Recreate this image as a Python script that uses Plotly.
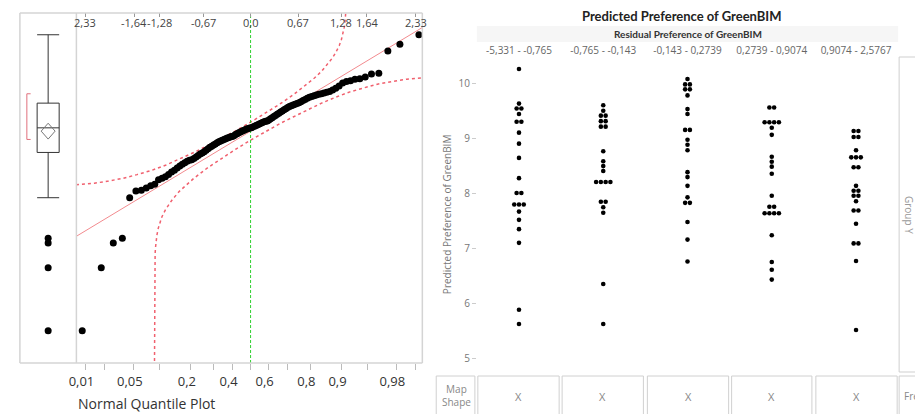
import plotly.graph_objects as go
from statistics import NormalDist, mean, stdev
from collections import Counter, defaultdict

# ---------------- data ----------------
# sorted residuals (Residual Preference of GreenBIM), n = 112
residuals = [
    -5.331, -3.647, -2.987, -2.861, -1.777, -1.598, -1.579, -1.52, -1.46, -1.42,
    -1.30, -1.26, -1.22, -1.16, -1.09, -1.04, -0.98, -0.93, -0.88, -0.84,
    -0.80, -0.775, -0.765, -0.73, -0.69, -0.65, -0.61, -0.585, -0.55, -0.51,
    -0.47, -0.43, -0.40, -0.37, -0.34, -0.31, -0.28, -0.26, -0.24, -0.22,
    -0.20, -0.18, -0.165, -0.150, -0.143, -0.12, -0.09, -0.065, -0.04, -0.02,
    0.00, 0.02, 0.04, 0.06, 0.075, 0.085, 0.095, 0.11, 0.13, 0.15,
    0.17, 0.19, 0.21, 0.23, 0.25, 0.265, 0.2739, 0.30, 0.33, 0.36,
    0.39, 0.42, 0.45, 0.48, 0.51, 0.54, 0.57, 0.60, 0.63, 0.66,
    0.68, 0.70, 0.72, 0.74, 0.76, 0.79, 0.82, 0.85, 0.88, 0.9074,
    0.93, 0.95, 0.97, 0.985, 1.00, 1.02, 1.04, 1.06, 1.10, 1.15,
    1.21, 1.29, 1.33, 1.35, 1.39, 1.40, 1.45, 1.53, 1.55, 2.14,
    2.32, 2.5767,
]

# confidence band: normal quantile -> residual
band_upper_z = [-2.46, -2.2, -2.0, -1.8, -1.6, -1.4, -1.2, -1.0, -0.8, -0.6, -0.4, -0.2, 0.0,
                0.2, 0.4, 0.6, 0.8, 0.9, 1.0, 1.1, 1.15, 1.2, 1.25, 1.28, 1.3, 1.32, 1.33,
                1.34, 1.345, 1.352]
band_upper_r = [-1.43, -1.39, -1.33, -1.26, -1.16, -1.05, -0.91, -0.75, -0.57, -0.38, -0.19,
                0.02, 0.24, 0.47, 0.71, 0.97, 1.26, 1.42, 1.60, 1.82, 1.95, 2.10, 2.29, 2.45,
                2.59, 2.78, 2.91, 3.12, 3.28, 4.2]
band_lower_z = [-1.354, -1.352, -1.345, -1.34, -1.33, -1.32, -1.3, -1.28, -1.25, -1.2, -1.15,
                -1.1, -1.0, -0.9, -0.8, -0.6, -0.4, -0.2, 0.0, 0.2, 0.4, 0.6, 0.8, 1.0, 1.2,
                1.4, 1.6, 1.8, 2.0, 2.2, 2.46]
band_lower_r = [-6.3, -4.2, -3.28, -3.12, -2.91, -2.78, -2.59, -2.45, -2.29, -2.10, -1.95,
                -1.82, -1.60, -1.42, -1.26, -0.97, -0.71, -0.47, -0.24, -0.02, 0.19, 0.38,
                0.57, 0.75, 0.91, 1.05, 1.16, 1.26, 1.33, 1.39, 1.43]

top_z_ticks = [-2.33, -1.64, -1.28, -0.67, 0.0, 0.67, 1.28, 1.64, 2.33]
top_z_text = ["2,33", "-1,64", "-1,28", "-0,67", "0,0", "0,67", "1,28", "1,64", "2,33"]
prob_ticks = [0.01, 0.02, 0.05, 0.1, 0.2, 0.3, 0.4, 0.5, 0.6, 0.7, 0.8, 0.9, 0.95, 0.98, 0.99]
prob_text = ["0,01", "", "0,05", "", "0,2", "", "0,4", "", "0,6", "", "0,8", "0,9", "", "0,98", ""]

bin_labels = ["-5,331 - -0,765", "-0,765 - -0,143", "-0,143 - 0,2739",
              "0,2739 - 0,9074", "0,9074 - 2,5767"]
pred_g1 = [10.27, 9.64, 9.55, 9.55, 9.45, 9.31, 9.31, 9.11, 8.91, 8.65, 8.28, 8.01, 8.01,
           7.80, 7.80, 7.80, 7.67, 7.52, 7.35, 7.10, 5.88, 5.62]
pred_g2 = [9.61, 9.51, 9.42, 9.42, 9.32, 9.32, 9.22, 9.22, 8.77, 8.59, 8.50, 8.41, 8.21,
           8.21, 8.21, 8.21, 7.85, 7.85, 7.75, 7.65, 6.35, 5.62]
pred_g3 = [10.09, 9.99, 9.99, 9.90, 9.90, 9.79, 9.54, 9.45, 9.16, 9.16, 8.98, 8.89, 8.79,
           8.39, 8.30, 8.14, 7.93, 7.83, 7.83, 7.48, 7.16, 6.76]
pred_g4 = [9.57, 9.57, 9.30, 9.30, 9.30, 9.30, 9.20, 9.07, 8.67, 8.58, 8.49, 8.36, 7.96,
           7.76, 7.76, 7.64, 7.64, 7.64, 7.64, 7.24, 6.75, 6.61, 6.43]
pred_g5 = [9.14, 9.14, 9.03, 9.03, 8.79, 8.66, 8.66, 8.66, 8.48, 8.48, 8.14, 8.05, 8.05,
           7.96, 7.96, 7.86, 7.69, 7.69, 7.45, 7.09, 7.09, 6.77, 5.51]
pred_ticks = [5, 6, 7, 8, 9, 10]

# ---------------- helpers ----------------
W, H = 915, 414
def fx(p):
    return p / W
def fy(p):
    return 1 - p / H

nd = NormalDist()
n = len(residuals)
res_sorted = sorted(residuals)
qz = [nd.inv_cdf(i / (n + 1)) for i in range(1, n + 1)]
m = mean(res_sorted)
s = stdev(res_sorted)

R_MIN, R_MAX = -6.193, 3.158
Z_MIN, Z_MAX = -2.454, 2.42
FONT = "Open Sans, Noto Sans, sans-serif"
TITLE_FONT = "Lato, Open Sans, sans-serif"

fig = go.Figure()

# ---- box plot ----
fig.add_trace(go.Box(
    y=res_sorted, x0=0.5, width=0.39, xaxis="x", yaxis="y",
    boxpoints="outliers", quartilemethod="exclusive", whiskerwidth=1,
    fillcolor="white", line=dict(color="#333333", width=1),
    marker=dict(color="black", size=7), showlegend=False, hoverinfo="skip",
))
ci = 1.96 * s / (n ** 0.5)
fig.add_trace(go.Scatter(
    x=[0.5 - 0.123, 0.5, 0.5 + 0.123, 0.5, 0.5 - 0.123],
    y=[m, m + ci, m, m - ci, m],
    mode="lines", line=dict(color="#777777", width=1), xaxis="x", yaxis="y",
    showlegend=False, hoverinfo="skip",
))
h = n // 2
best = min(range(n - h + 1), key=lambda i: res_sorted[i + h - 1] - res_sorted[i])
lo, hi = res_sorted[best], res_sorted[best + h - 1]
fig.add_trace(go.Scatter(
    x=[0.19, 0.123, 0.123, 0.19], y=[hi, hi, lo, lo], mode="lines",
    line=dict(color="#e0707c", width=1), xaxis="x", yaxis="y",
    showlegend=False, hoverinfo="skip",
))

# ---- normal quantile plot ----
fig.add_trace(go.Scatter(
    x=band_upper_z, y=band_upper_r, mode="lines", xaxis="x2", yaxis="y2",
    line=dict(color="#f0606e", width=1.5, dash="dot"), showlegend=False, hoverinfo="skip",
))
fig.add_trace(go.Scatter(
    x=band_lower_z, y=band_lower_r, mode="lines", xaxis="x2", yaxis="y2",
    line=dict(color="#f0606e", width=1.5, dash="dot"), showlegend=False, hoverinfo="skip",
))
fig.add_trace(go.Scatter(
    x=[Z_MIN, Z_MAX], y=[m + s * Z_MIN, m + s * Z_MAX], mode="lines",
    xaxis="x2", yaxis="y2", line=dict(color="#f28a8e", width=1),
    showlegend=False, hoverinfo="skip",
))
fig.add_trace(go.Scatter(
    x=[0, 0], y=[R_MIN, R_MAX], mode="lines", xaxis="x2", yaxis="y2",
    line=dict(color="#2fd02f", width=1, dash="3px,2px"), showlegend=False, hoverinfo="skip",
))
fig.add_trace(go.Scatter(
    x=qz, y=res_sorted, mode="markers", xaxis="x2", yaxis="y2",
    marker=dict(color="black", size=7), showlegend=False, hoverinfo="skip",
))
fig.add_trace(go.Scatter(
    x=[0], y=[0], mode="markers", xaxis="x3", yaxis="y2",
    marker=dict(opacity=0), showlegend=False, hoverinfo="skip",
))

# ---- dot plot (predicted by residual bin) ----
step = 0.0565
def swarm(vals, center):
    counts = Counter(vals)
    seen = defaultdict(int)
    xs, ys = [], []
    for v in vals:
        k = counts[v]
        j = seen[v]
        seen[v] += 1
        xs.append(center + (j - (k - 1) / 2) * step)
        ys.append(v)
    return xs, ys

for gi, vals in enumerate([pred_g1, pred_g2, pred_g3, pred_g4, pred_g5]):
    xs, ys = swarm(vals, gi)
    fig.add_trace(go.Scatter(
        x=xs, y=ys, mode="markers", xaxis="x4", yaxis="y4",
        marker=dict(color="black", size=4.6), showlegend=False, hoverinfo="skip",
    ))

# ---------------- layout ----------------
ydom_left = [fy(363), fy(13)]
layout = dict(
    width=W, height=H, margin=dict(l=0, r=0, t=0, b=0),
    paper_bgcolor="white", plot_bgcolor="white",
    font=dict(family=FONT, color="#333333"),
    xaxis=dict(domain=[fx(12), fx(69)], range=[0, 1], visible=False, anchor="y"),
    yaxis=dict(domain=ydom_left, range=[R_MIN, R_MAX], visible=False, anchor="x"),
    xaxis2=dict(domain=[fx(69), fx(418)], range=[Z_MIN, Z_MAX], anchor="y2",
                tickvals=[nd.inv_cdf(p) for p in prob_ticks], ticktext=prob_text,
                ticks="outside", ticklen=6, tickcolor="#bbbbbb", showgrid=False,
                tickangle=0, zeroline=False, showline=False, ticklabelshift=-4,
                tickfont=dict(size=13, color="#333333")),
    yaxis2=dict(domain=ydom_left, range=[R_MIN, R_MAX], visible=False, anchor="x2"),
    xaxis3=dict(overlaying="x2", side="top", range=[Z_MIN, Z_MAX], anchor="y2",
                tickvals=top_z_ticks, ticktext=[""] * len(top_z_ticks),
                ticks="inside", ticklen=4, tickcolor="#999999", showgrid=False,
                zeroline=False, showline=False),
    xaxis4=dict(domain=[fx(473), fx(898)], range=[-0.5, 4.5], anchor="y4", side="top",
                tickvals=[0, 1, 2, 3, 4], ticktext=bin_labels, ticks="", showgrid=False,
                tickangle=0, zeroline=False, showline=False,
                tickfont=dict(size=10, color="#666666")),
    yaxis4=dict(domain=[fy(372), fy(57)], range=[4.745, 10.49], anchor="x4",
                tickvals=pred_ticks, ticks="outside", ticklen=4, tickcolor="#cccccc",
                showgrid=False, zeroline=False, showline=False,
                tickfont=dict(size=10, color="#777777")),
)
fig.update_layout(**layout)

# frame lines of left panel and other decorations
shapes = []
def pline(x0, y0, x1, y1, color="#d4d4d4", width=1.5):
    shapes.append(dict(type="line", xref="paper", yref="paper",
                       x0=fx(x0), y0=fy(y0), x1=fx(x1), y1=fy(y1),
                       line=dict(color=color, width=width)))
pline(12, 13, 12, 363)
pline(69, 13, 69, 363)
pline(12, 13, 418, 13)
pline(12, 363, 418, 363)
pline(418, 13, 418, 363)
# subtitle band
shapes.append(dict(type="rect", xref="paper", yref="paper", x0=fx(473), x1=fx(898),
                   y0=fy(42), y1=fy(26), fillcolor="#f6f6f6", line=dict(width=0), layer="below"))
# group Y frame
pline(899, 57, 899, 372, color="#cfcfcf", width=1)
pline(899, 57, 915, 57, color="#cfcfcf", width=1)
pline(899, 372, 915, 372, color="#cfcfcf", width=1)
# bottom cells
for (a, b) in [(432, 471), (474, 556), (559, 641), (645, 727), (730, 811), (815, 897), (899, 930)]:
    shapes.append(dict(type="rect", xref="paper", yref="paper", x0=fx(a), x1=fx(b),
                       y0=fy(425), y1=fy(376), line=dict(color="#d0d0d0", width=1),
                       fillcolor="rgba(0,0,0,0)"))
fig.update_layout(shapes=shapes)

ann = []
def note(text, x, y, size, color, bold=False, angle=0, xanchor="center", family=FONT):
    ann.append(dict(text=f"<b>{text}</b>" if bold else text, x=fx(x), y=fy(y),
                    xref="paper", yref="paper", showarrow=False, textangle=angle,
                    xanchor=xanchor, yanchor="middle",
                    font=dict(size=size, color=color, family=family)))
note("Normal Quantile Plot", 69, 403, 14, "#333333", xanchor="left")
note("Predicted Preference of GreenBIM", 679, 16, 13, "#222222", bold=True, family=TITLE_FONT)
note("Residual Preference of GreenBIM", 686, 34, 10, "#333333", bold=True, family=TITLE_FONT)
note("Predicted Preference of GreenBIM", 443, 214, 10, "#777777", angle=-90)
note("Group Y", 909, 215, 10, "#999999", angle=90)
note("Map<br>Shape", 452, 395, 10, "#888888")
for cx in [515, 600, 686, 770.5, 856]:
    note("X", cx, 396, 11, "#888888")
note("Freq", 902, 396, 10, "#888888", xanchor="left")
# top normal-quantile labels, anchored to the quantile axis
for zv, zt in zip(top_z_ticks, top_z_text):
    ann.append(dict(text=zt, x=zv, xref="x2", y=fy(22.5), yref="paper", showarrow=False,
                    xanchor="center", yanchor="middle",
                    font=dict(size=11, color="#444444", family=FONT)))
fig.update_layout(annotations=ann)

fig.write_html(
    "out.html",
    config={"displayModeBar": False},
    post_script="document.body.style.margin='0px';document.body.style.overflow='hidden';",
)
